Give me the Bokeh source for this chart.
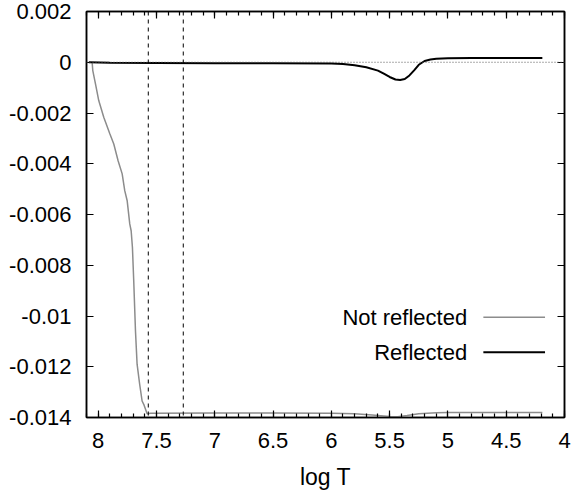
from bokeh.plotting import figure
from bokeh.models import (Range1d, LinearAxis, SingleIntervalTicker, CustomJSTickFormatter,
                          Span, Label, Arrow)
from bokeh.embed import file_html
from bokeh.resources import INLINE

# ---- data ----
not_refl_x = [8.051, 8.046, 8.023, 7.995, 7.952, 7.90, 7.866, 7.829, 7.794, 7.772, 7.751,
              7.729, 7.717, 7.706, 7.695, 7.680, 7.666, 7.644, 7.623, 7.609, 7.580, 7.55,
              7.0, 6.5, 6.0, 5.8, 5.65, 5.5, 5.43, 5.35, 5.25, 5.1, 5.0, 4.6, 4.19]
not_refl_y = [-0.00004, -0.00033, -0.00085, -0.00151, -0.00217, -0.00282, -0.00322, -0.00388,
              -0.0044, -0.00506, -0.00546, -0.00637, -0.00664, -0.0073, -0.0086, -0.01058,
              -0.0119, -0.01269, -0.01335, -0.01348, -0.01385, -0.01383,
              -0.01382, -0.01382, -0.01383, -0.01385, -0.0139, -0.01396, -0.01397, -0.01392,
              -0.01385, -0.01381, -0.0138, -0.0138, -0.0138]

refl_x = [8.08, 7.9, 7.5, 7.0, 6.5, 6.0, 5.9, 5.8, 5.7, 5.6, 5.55, 5.5, 5.45, 5.41, 5.37,
          5.33, 5.29, 5.25, 5.2, 5.15, 5.1, 5.0, 4.8, 4.5, 4.19]
refl_y = [0.0, -0.00002, -0.00003, -0.00004, -0.00004, -0.00005, -0.00007, -0.00012, -0.0002,
          -0.00033, -0.00045, -0.00058, -0.00068, -0.0007, -0.00066, -0.00052, -0.00032,
          -0.0001, 0.00005, 0.00011, 0.00014, 0.00016, 0.00017, 0.00017, 0.00017]

marker_lines_x = [7.57, 7.27]
series_labels = ["Not reflected", "Reflected"]
series_colors = ["#8c8c8c", "#000000"]
x_label = "log T"

FONT = "Liberation Sans"

p = figure(frame_width=478, frame_height=406, output_backend="svg", toolbar_location=None,
           x_range=Range1d(8.1, 4.0), y_range=Range1d(-0.014, 0.002),
           min_border_left=86, min_border_right=10, min_border_top=11, min_border_bottom=76,
           background_fill_color="white", border_fill_color="white")
p.grid.visible = False
p.outline_line_color = "black"
p.outline_line_width = 1.5

xt = SingleIntervalTicker(interval=0.5, num_minor_ticks=5)
yt = SingleIntervalTicker(interval=0.002, num_minor_ticks=0)
xf = CustomJSTickFormatter(code="return (Math.round(tick*10)/10).toString();")
yf = CustomJSTickFormatter(code="return parseFloat(tick.toFixed(3)).toString();")
blank = CustomJSTickFormatter(code="return '';")

def style(ax, ticker, labels=True):
    ax.ticker = ticker
    ax.major_tick_in = 7
    ax.major_tick_out = 0
    ax.minor_tick_in = 4
    ax.minor_tick_out = 0
    ax.axis_line_color = "black"
    ax.axis_line_width = 1.5
    ax.major_tick_line_color = "black"
    ax.major_tick_line_width = 1.2
    ax.minor_tick_line_color = "black"
    ax.minor_tick_line_width = 1.2
    if labels:
        ax.major_label_text_font = FONT
        ax.major_label_text_font_size = "22px"
        ax.major_label_text_color = "black"
    else:
        ax.formatter = blank
        ax.major_label_standoff = 0

style(p.xaxis[0], xt)
p.xaxis[0].formatter = xf
p.xaxis[0].major_label_standoff = 15
p.xaxis[0].axis_label = x_label
p.xaxis[0].axis_label_text_font = FONT
p.xaxis[0].axis_label_text_font_size = "23px"
p.xaxis[0].axis_label_text_font_style = "normal"
p.xaxis[0].axis_label_text_color = "black"
p.xaxis[0].axis_label_standoff = 13

style(p.yaxis[0], yt)
p.yaxis[0].formatter = yf
p.yaxis[0].major_label_standoff = 15

top = LinearAxis()
style(top, SingleIntervalTicker(interval=0.5, num_minor_ticks=5), labels=False)
p.add_layout(top, "above")
right = LinearAxis()
style(right, SingleIntervalTicker(interval=0.002, num_minor_ticks=0), labels=False)
p.add_layout(right, "right")

# zero line and marker lines
p.add_layout(Span(location=0, dimension="width", line_color="#555555",
                  line_dash="1 2", line_width=1))
for xv in marker_lines_x:
    p.add_layout(Span(location=xv, dimension="height", line_color="black",
                      line_dash="4 4", line_width=1))

p.line(not_refl_x, not_refl_y, line_color=series_colors[0], line_width=1.5)
p.line(refl_x, refl_y, line_color=series_colors[1], line_width=2)

# gnuplot-style key: text right-aligned, sample on the right
key_y = [-0.01005, -0.01143]
key_text_x = 4.835
key_line_x = (4.696, 4.167)
for lab, col, yy, w in zip(series_labels, series_colors, key_y, [1.5, 2]):
    p.add_layout(Label(x=key_text_x, y=yy, text=lab, text_align="right", text_baseline="middle",
                       text_font=FONT, text_font_size="22px", text_color="black"))
    p.add_layout(Arrow(end=None, x_start=key_line_x[0], x_end=key_line_x[1],
                       y_start=yy, y_end=yy, line_color=col, line_width=w))

open("out.html", "w").write(file_html(p, INLINE))
